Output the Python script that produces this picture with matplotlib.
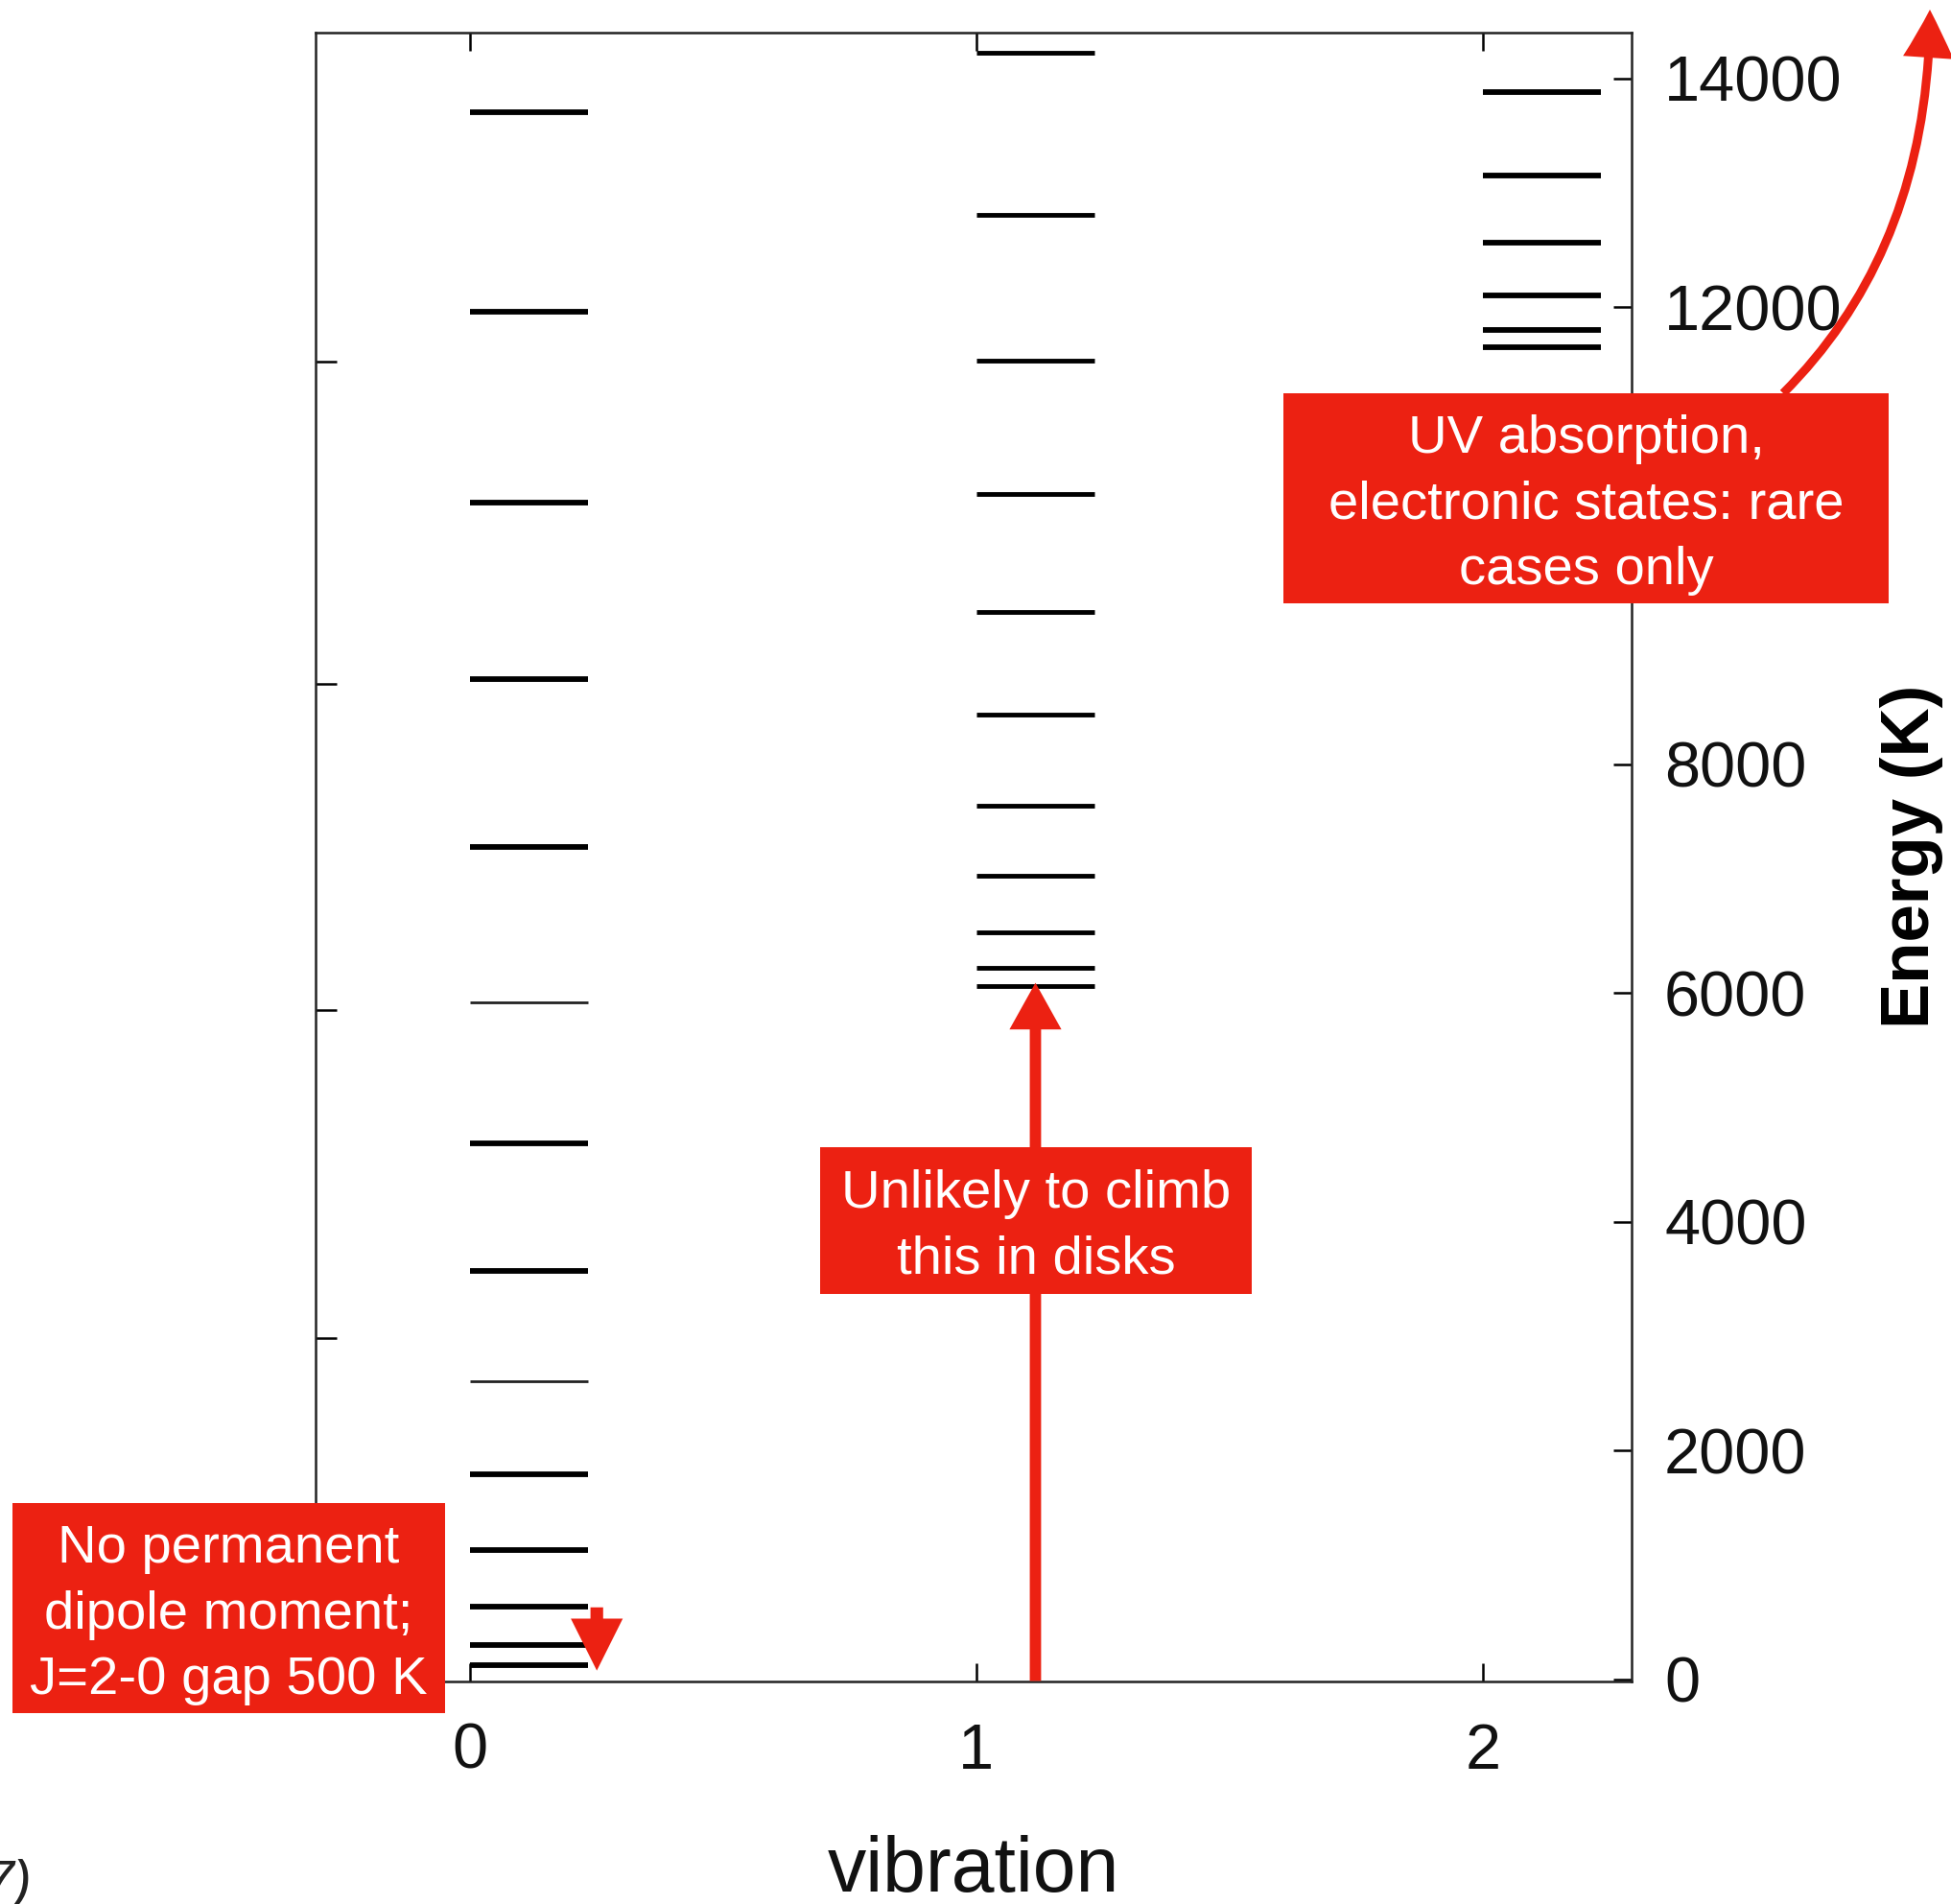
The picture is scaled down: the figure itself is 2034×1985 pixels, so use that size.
import matplotlib.pyplot as plt
from matplotlib.patches import Rectangle, FancyArrowPatch
from matplotlib.path import Path

plt.rcParams['font.family'] = ['Liberation Sans', 'DejaVu Sans']

# energy levels (K), one list per vibrational level
v0_levels = [120, 299, 637, 1125, 1793, 3573, 4683, 7277, 8745, 10288, 11961, 13704]
v0_thin = [2607, 5919]
v1_levels = [6064, 6225, 6532, 7025, 7638, 8432, 9333, 10364, 11529, 12805, 14228]
v2_levels = [11647, 11797, 12103, 12564, 13149, 13882]

vib_ticks = [0, 1, 2]
energy_ticks = [0, 2000, 4000, 6000, 8000, 10000, 12000, 14000]
energy_labels = ['0', '2000', '4000', '6000', '8000', '', '12000', '14000']  # 10000 sits under the red box
left_ticks = [2984, 5854, 8702, 11519]   # unlabeled ticks on the left side

RED = '#EC2112'
W, H = 2034, 1985
BAR = 0.234

fig = plt.figure(figsize=(W / 100, H / 100), dpi=100)
ax = fig.add_axes([329.4 / W, 1 - 1752.5 / H, (1701 - 329.4) / W, (1752.5 - 34) / H])
ax.set_xlim(-0.3035, 2.294)
ax.set_ylim(-16, 14400)

# levels
ax.hlines(v0_levels, 0, BAR, colors='black', lw=4.2, capstyle='butt')
ax.hlines(v0_thin, 0, BAR, colors='#222222', lw=2.0, capstyle='butt')
ax.hlines(v1_levels, 1, 1 + BAR, colors='black', lw=3.5, capstyle='butt')
ax.hlines(v2_levels, 2, 2 + BAR, colors='black', lw=4.2, capstyle='butt')

# axes styling
for s in ax.spines.values():
    s.set_linewidth(1.8)
    s.set_color('#222222')
ax.set_xticks(vib_ticks)
ax.set_yticks(energy_ticks, energy_labels)
ax.set_yticks(left_ticks, minor=True)
ax.tick_params(axis='x', direction='in', length=14, width=1.8, top=True, bottom=True,
               labelsize=48, pad=31, labelcolor='#111111')
ax.tick_params(axis='y', which='major', direction='in', length=14, width=1.8,
               left=False, right=True, labelleft=False, labelright=True,
               labelsize=48, pad=24.5, labelcolor='#111111')
ax.tick_params(axis='y', which='minor', direction='in', length=16, width=1.8,
               left=True, right=False)

ax.set_xlabel('vibration', fontsize=58, color='#111111')
ax.xaxis.set_label_coords(0.5, -(1913 - 1752.5) / 1718.5)
ax.yaxis.set_label_position('right')
ax.set_ylabel('Energy (K)', fontsize=51, fontweight='bold')
ax.yaxis.set_label_coords((1960 - 329.4) / 1371.6, 0.5)

# red arrows inside the axes
ax.annotate('', xy=(1.117, 6090), xytext=(1.117, -16),
            arrowprops=dict(width=8.5, headwidth=39, headlength=35, color=RED, lw=0))
ax.annotate('', xy=(0.251, 75), xytext=(0.251, 628),
            arrowprops=dict(width=9.5, headwidth=39, headlength=39, color=RED, lw=0))

# curved arrow out of the top-right box (figure pixel coords, y from top)
pts = [(1859, 410), (2012, 257), (2012, 10)]
curve = Path([(x / W, 1 - y / H) for x, y in pts], [Path.MOVETO, Path.CURVE3, Path.CURVE3])
arr = FancyArrowPatch(path=curve, transform=fig.transFigure,
                      arrowstyle='simple,head_length=36,head_width=38,tail_width=6.5',
                      mutation_scale=1, color=RED, lw=0, zorder=4)
fig.add_artist(arr)


def red_box(x0, y0, x1, y1, text):
    fig.add_artist(Rectangle((x0 / W, 1 - y1 / H), (x1 - x0) / W, (y1 - y0) / H,
                             transform=fig.transFigure, facecolor=RED, edgecolor='none',
                             zorder=5))
    fig.text((x0 + x1) / 2 / W, 1 - ((y0 + y1) / 2 + 7) / H, text, ha='center', va='center',
             color='white', fontsize=40.5, linespacing=1.41, zorder=6)


red_box(13, 1567, 464, 1786, 'No permanent\ndipole moment;\nJ=2-0 gap 500 K')
red_box(855, 1196, 1305, 1349, 'Unlikely to climb\nthis in disks')
red_box(1338, 410, 1969, 629, 'UV absorption,\nelectronic states: rare\ncases only')

fig.text(33 / W, 1 - 1980 / H, '7)', ha='right', va='baseline', style='italic',
         fontsize=41, color='#222222')

fig.savefig('out.png', dpi=100)
